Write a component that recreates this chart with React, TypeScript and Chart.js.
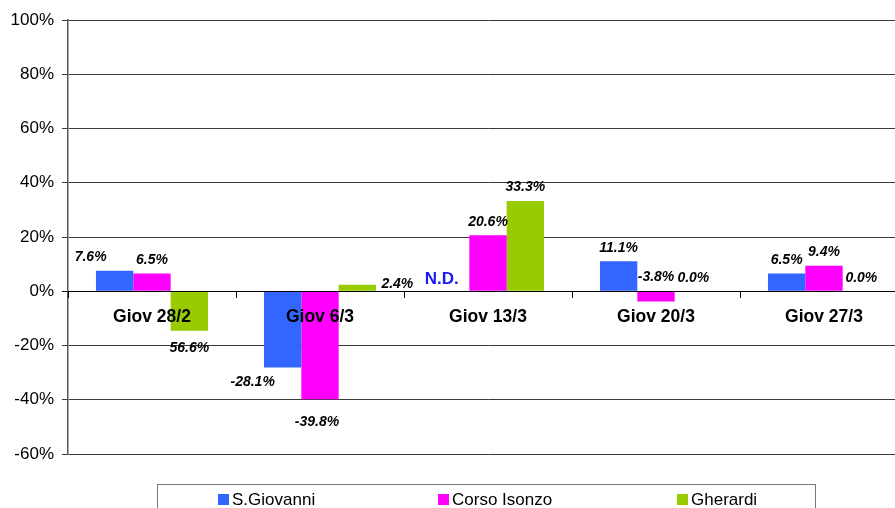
import React, { useEffect, useRef } from 'react';
import { Chart, registerables } from 'chart.js';

Chart.register(...registerables);

const categories = ['Giov 28/2', 'Giov 6/3', 'Giov 13/3', 'Giov 20/3', 'Giov 27/3'];
const seriesNames = ['S.Giovanni', 'Corso Isonzo', 'Gherardi'];
const sGiovanni: (number | null)[] = [7.6, -28.1, null, 11.1, 6.5];
const corsoIsonzo: (number | null)[] = [6.5, -39.8, 20.6, -3.8, 9.4];
const gherardi: (number | null)[] = [-14.6, 2.4, 33.3, 0.0, 0.0];
const sGiovanniLabels = ['7.6%', '-28.1%', 'N.D.', '11.1%', '6.5%'];
const corsoIsonzoLabels = ['6.5%', '-39.8%', '20.6%', '-3.8%', '9.4%'];
const gherardiLabels = ['56.6%', '2.4%', '33.3%', '0.0%', '0.0%'];
const yMin = -60;
const yMax = 100;
const yStep = 20;

const FONT = "'Liberation Sans', Arial, Helvetica, sans-serif";
const colors = ['#3366FF', '#FF00FF', '#99CC00'];
const allLabels = [sGiovanniLabels, corsoIsonzoLabels, gherardiLabels];

// per-label nudges (style only)
const labelAdjust: Record<string, { dx?: number; dy?: number; mode?: string }> = {
  '0-0': { dx: -24 },
  '0-1': { dx: -30, dy: -2.5 },
  '1-1': { dx: -3, dy: 5.5 },
  '2-1': { mode: 'right' },
  '1-3': { mode: 'aboveZero' },
};

const dataLabelPlugin = {
  id: 'dataLabelPlugin',
  afterDatasetsDraw(chart: any) {
    const ctx = chart.ctx;
    const yScale = chart.scales.y;
    const xScale = chart.scales.x;
    const zero = yScale.getPixelForValue(0);
    ctx.save();
    chart.data.datasets.forEach((ds: any, di: number) => {
      const meta = chart.getDatasetMeta(di);
      meta.data.forEach((bar: any, i: number) => {
        const v = ds.data[i];
        const text = allLabels[di][i];
        const adj = labelAdjust[`${di}-${i}`] || {};
        ctx.textAlign = 'center';
        ctx.textBaseline = 'middle';
        if (v === null || v === undefined) {
          const catW = xScale.getPixelForValue(1) - xScale.getPixelForValue(0);
          const bw = (catW * 0.667) / 3;
          let x = bar.x;
          if (!isFinite(x)) x = xScale.getPixelForValue(i) + (di - 1) * bw;
          ctx.font = `bold 17px ${FONT}`;
          ctx.fillStyle = '#1a1aee';
          ctx.fillText(text, x - 9, zero - 12);
          return;
        }
        ctx.font = `italic bold 14px ${FONT}`;
        ctx.fillStyle = '#000';
        let x = bar.x;
        let y: number;
        if (adj.mode === 'right') {
          x = bar.x + 40;
          y = bar.y - 1;
        } else if (adj.mode === 'aboveZero') {
          y = zero - 14;
        } else if (v >= 0) {
          y = bar.y - 13.5;
        } else {
          y = bar.y + 17.5;
        }
        x += adj.dx || 0;
        y += adj.dy || 0;
        ctx.fillText(text, x, y);
      });
    });
    ctx.restore();
  },
};

const legendPlugin = {
  id: 'boxLegend',
  afterDraw(chart: any) {
    const ctx = chart.ctx;
    const left = 157;
    const top = 484;
    const w = 658;
    const h = 40;
    const offsets = [61, 281, 520];
    ctx.save();
    ctx.strokeStyle = '#777';
    ctx.lineWidth = 1;
    ctx.strokeRect(left + 0.5, top + 0.5, w, h);
    ctx.font = `17px ${FONT}`;
    ctx.textAlign = 'left';
    ctx.textBaseline = 'alphabetic';
    seriesNames.forEach((name, i) => {
      const x = left + offsets[i];
      ctx.fillStyle = colors[i];
      ctx.fillRect(x, top + 10, 11, 11);
      ctx.fillStyle = '#000';
      ctx.fillText(name, x + 14, top + 21);
    });
    ctx.restore();
  },
};

export default function App() {
  const canvasRef = useRef<HTMLCanvasElement | null>(null);

  useEffect(() => {
    const canvas = canvasRef.current;
    if (!canvas) return;
    Chart.defaults.font.family = FONT;
    const chart = new Chart(canvas, {
      type: 'bar',
      data: {
        labels: categories,
        datasets: [
          { label: seriesNames[0], data: sGiovanni, backgroundColor: colors[0] },
          { label: seriesNames[1], data: corsoIsonzo, backgroundColor: colors[1] },
          { label: seriesNames[2], data: gherardi, backgroundColor: colors[2] },
        ],
      },
      options: {
        animation: false,
        responsive: false,
        maintainAspectRatio: false,
        devicePixelRatio: 1,
        layout: { padding: { top: 20, bottom: 54, left: 0, right: 2 } },
        datasets: {
          bar: { categoryPercentage: 0.667, barPercentage: 1.0, borderWidth: 0 },
        },
        plugins: {
          legend: { display: false },
          tooltip: { enabled: false },
          title: { display: false },
        },
        scales: {
          x: {
            type: 'category',
            position: { y: 0 } as any,
            offset: true,
            grid: {
              display: true,
              drawOnChartArea: false,
              drawTicks: true,
              tickLength: 6,
              offset: true,
              color: '#000',
              z: 1,
            },
            border: { display: true, color: '#000', width: 1, z: 1 },
            ticks: {
              color: '#000',
              font: { family: FONT, size: 17.5, weight: 'bold' },
              padding: 9,
              maxRotation: 0,
              autoSkip: false,
              z: 2,
            },
          },
          y: {
            min: yMin,
            max: yMax,
            ticks: {
              stepSize: yStep,
              color: '#000',
              font: { family: FONT, size: 17 },
              padding: 8,
              callback: (v: any) => `${v}%`,
            },
            grid: {
              color: (c: any) => (c.tick && c.tick.value === 0 ? '#000' : '#3a3a3a'),
              tickLength: 6,
              drawTicks: true,
              lineWidth: 1,
            },
            border: { display: true, color: '#555', width: 1.5 },
            afterFit: (s: any) => {
              s.width = 68;
            },
          },
        },
      },
      plugins: [dataLabelPlugin, legendPlugin],
    });
    return () => chart.destroy();
  }, []);

  return (
    <div style={{ position: 'fixed', left: 0, top: 0, width: 910, height: 508, overflow: 'hidden', background: '#fff' }}>
      <canvas ref={canvasRef} width={910} height={508} style={{ display: 'block', width: 910, height: 508 }} />
    </div>
  );
}
